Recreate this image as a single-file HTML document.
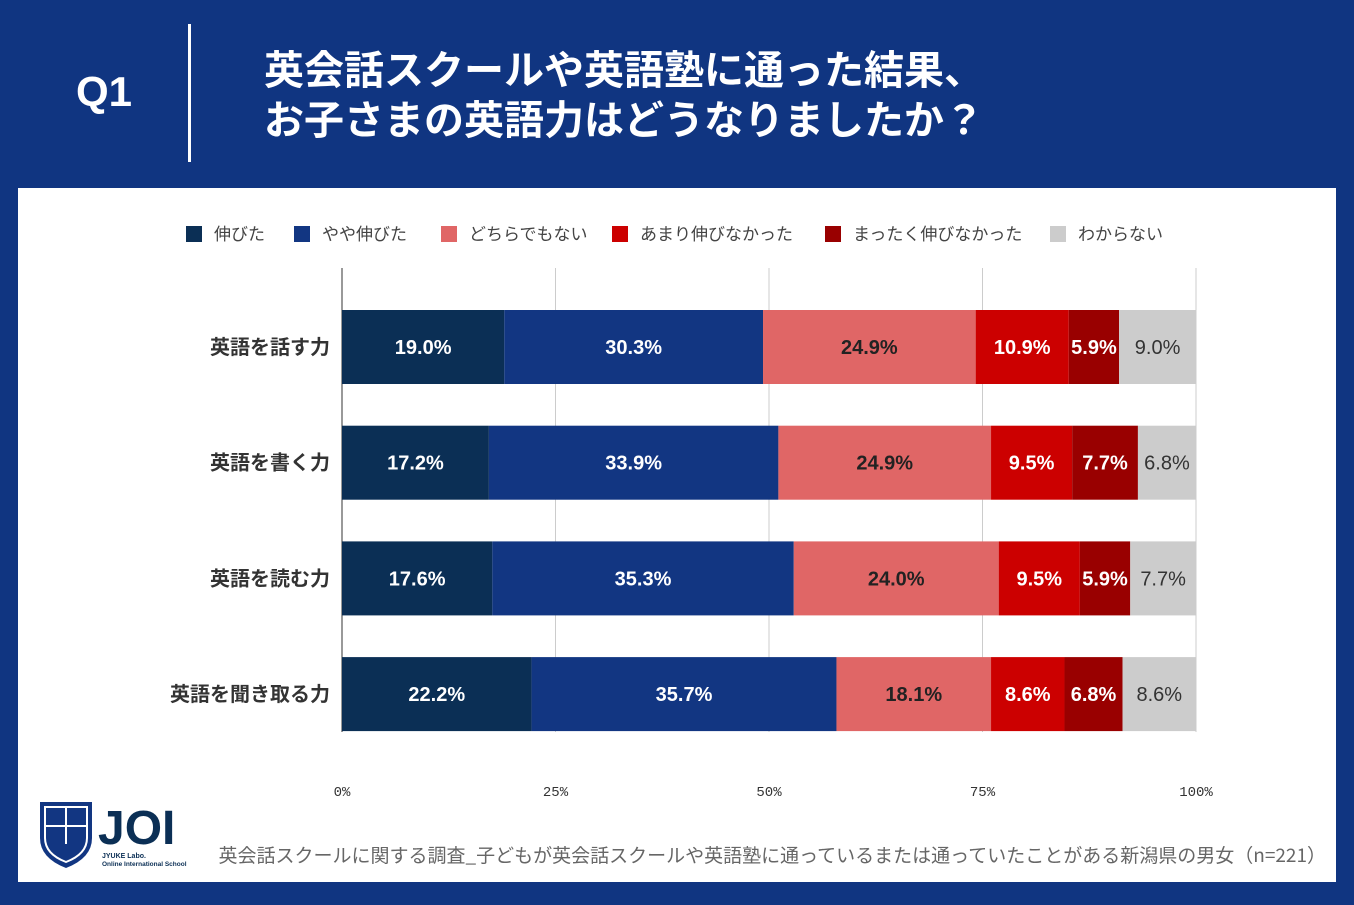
<!DOCTYPE html>
<html><head><meta charset="utf-8"><style>
body{margin:0;width:1354px;height:905px;background:#103581;position:relative;overflow:hidden;font-family:"Liberation Sans","Noto Sans CJK JP",sans-serif}
.q{position:absolute;left:76px;top:68px;color:#fff;font-size:42px;font-weight:bold}
.sep{position:absolute;left:188px;top:24px;width:3px;height:138px;background:#fff}
.title{position:absolute;left:264px;top:42px;color:#fff;font-size:40px;font-weight:bold;line-height:50px;font-family:"Noto Sans CJK JP",sans-serif}
.panel{position:absolute;left:18px;top:188px;width:1318px;height:694px;background:#fff}
</style></head><body>
<div class="q">Q1</div>
<div class="sep"></div>
<div class="title">英会話スクールや英語塾に通った結果、<br>お子さまの英語力はどうなりましたか？</div>
<div class="panel"></div>
<svg id="chart" width="1354" height="905" style="position:absolute;left:0;top:0"></svg>
<script>
const categories=["英語を話す力","英語を書く力","英語を読む力","英語を聞き取る力"];
const seriesNames=["伸びた","やや伸びた","どちらでもない","あまり伸びなかった","まったく伸びなかった","わからない"];
const s1=[19.0,17.2,17.6,22.2];
const s2=[30.3,33.9,35.3,35.7];
const s3=[24.9,24.9,24.0,18.1];
const s4=[10.9,9.5,9.5,8.6];
const s5=[5.9,7.7,5.9,6.8];
const s6=[9.0,6.8,7.7,8.6];
const ticks=[0,25,50,75,100];
const tickLabels=["0%","25%","50%","75%","100%"];
const series=[s1,s2,s3,s4,s5,s6];
const colors=["#0b2f55","#123682","#e06666","#cc0000","#990000","#cccccc"];
const textColors=["#fff","#fff","#222","#fff","#fff","#333"];
const NS="http://www.w3.org/2000/svg";
const svg=document.getElementById("chart");
const x0=342,x1=1196;
const xs=v=>x0+(x1-x0)*v/100;
const yc=i=>347+i*115.7;
const bh=74;
function mk(t,a){const e=document.createElementNS(NS,t);for(const k in a)e.setAttribute(k,a[k]);svg.appendChild(e);return e;}
ticks.forEach((t,i)=>{
 const l=mk("line",{x1:xs(t),x2:xs(t),y1:268,y2:732,stroke:i==0?"#333":"#ccc","stroke-width":1});
 
 
 const tx=mk("text",{x:xs(t),y:796,"text-anchor":"middle","font-size":14,fill:"#333","font-family":"Liberation Mono,monospace"});
 tx.textContent=tickLabels[i];
 
 
});
categories.forEach((c,i)=>{
 const t=mk("text",{x:330,y:yc(i)+7,"text-anchor":"end","font-size":20,fill:"#333","font-family":"Noto Sans CJK JP,sans-serif","font-weight":"bold"});
 t.textContent=c;
 
 
 let acc=0;
 series.forEach((s,j)=>{
  const v=s[i];
  const r=mk("rect",{x:xs(acc),y:yc(i)-bh/2,width:xs(acc+v)-xs(acc),height:bh,fill:colors[j]});
  
  
  const tt=mk("text",{x:(xs(acc)+xs(acc+v))/2,y:yc(i)+7,"text-anchor":"middle","font-size":20,fill:textColors[j],"font-weight":j==5?"normal":"bold"});
  tt.textContent=v.toFixed(1)+"%";
  
  
  acc+=v;
 });
});
const lx=[186,294,441,612,825,1050];
seriesNames.forEach((n,j)=>{
 const r=mk("rect",{x:lx[j],y:226,width:16,height:16,fill:colors[j]});
 
 
 const t=mk("text",{x:lx[j]+28,y:240,"font-size":17,fill:"#444","font-family":"Noto Sans CJK JP,sans-serif"});
 t.textContent=n;
 
 
});
const src=mk("text",{x:1326,y:862,"text-anchor":"end","font-size":19,fill:"#666","font-family":"Noto Sans CJK JP,sans-serif"});
src.textContent="英会話スクールに関する調査_子どもが英会話スクールや英語塾に通っているまたは通っていたことがある新潟県の男女（n=221）";


</script>
<svg width="160" height="75" style="position:absolute;left:36px;top:798px">
<path d="M4 4 H56 V40 Q56 60 30 70 Q4 60 4 40 Z" fill="#123682"/>
<path d="M9 9 H51 V40 Q51 56 30 64 Q9 56 9 40 Z" fill="none" stroke="#fff" stroke-width="2"/>
<line x1="30" y1="9" x2="30" y2="46" stroke="#fff" stroke-width="2"/><line x1="9" y1="28" x2="51" y2="28" stroke="#fff" stroke-width="2"/>
<text x="62" y="46" font-size="48" font-weight="bold" fill="#0b2f55" font-family="Liberation Sans,sans-serif">JOI</text>
<text x="66" y="60" font-size="7" font-weight="bold" fill="#0b2f55">JYUKE Labo.</text>
<text x="66" y="68" font-size="6.5" font-weight="bold" fill="#0b2f55">Online International School</text>
</svg>
</body></html>
